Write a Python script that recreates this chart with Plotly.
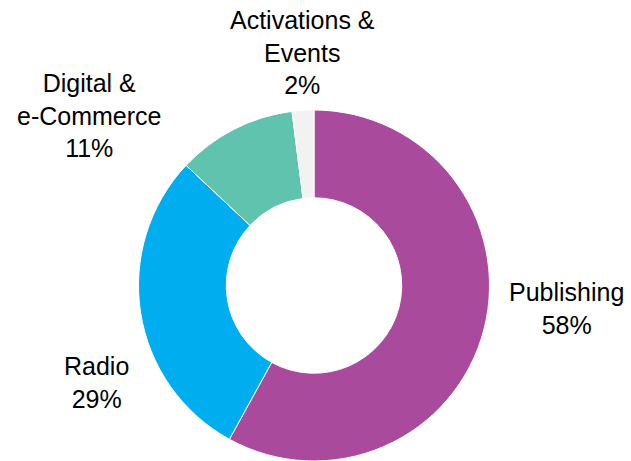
import plotly.graph_objects as go

categories = ["Publishing", "Radio", "Digital & e-Commerce", "Activations & Events"]
label_lines = ["Publishing", "Radio", "Digital &<br>e-Commerce", "Activations &<br>Events"]
shares = [58, 29, 11, 2]
colors = ["#AA4A9C", "#00AEEF", "#5FC3AD", "#F2F2F2"]

W, H = 631, 461
# label centres in pixels (layout)
label_pos = [(566, 308), (96, 382), (89, 115), (302, 52)]

fig = go.Figure(go.Pie(
    labels=categories,
    values=shares,
    hole=0.5,
    sort=False,
    direction="clockwise",
    rotation=0,
    marker=dict(colors=colors, line=dict(color="white", width=1)),
    textinfo="none",
    hoverinfo="label+percent",
    showlegend=False,
    domain=dict(x=[(314 - 175.5) / W, (314 + 175.5) / W], y=[0, 1 - 110 / H]),
))

for txt, v, (px, py) in zip(label_lines, shares, label_pos):
    fig.add_annotation(
        text=f"{txt}<br>{v}%",
        x=px / W, y=1 - py / H, xref="paper", yref="paper",
        xanchor="center", yanchor="middle", showarrow=False,
        align="center",
        font=dict(family="Liberation Sans, Arial, sans-serif", size=25, color="black"),
    )

fig.update_layout(
    width=W, height=H,
    margin=dict(l=0, r=0, t=0, b=0),
    paper_bgcolor="white", plot_bgcolor="white",
)
fig.write_html(
    "out.html",
    config={"displayModeBar": False},
    post_script="document.body.style.margin='0px';document.body.style.overflow='hidden';",
)
